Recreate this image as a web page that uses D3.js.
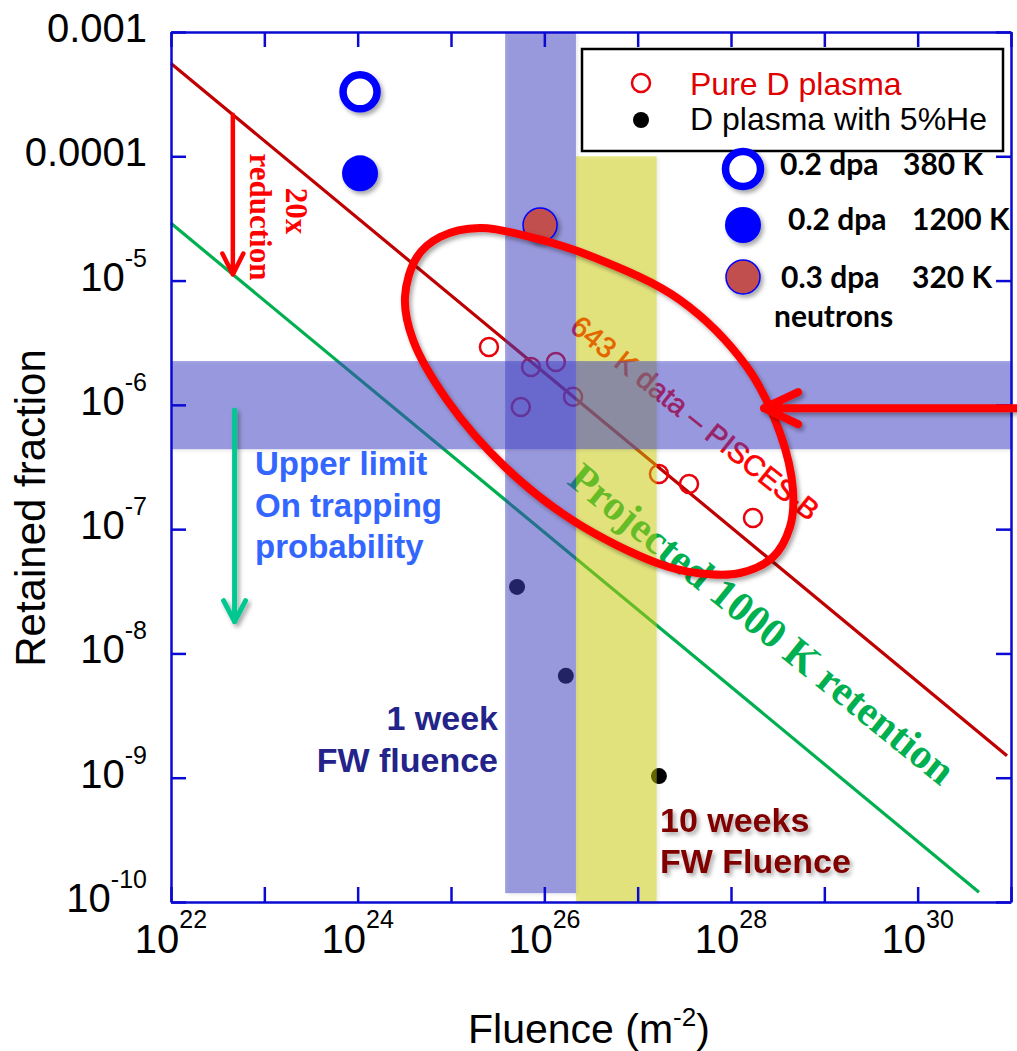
<!DOCTYPE html>
<html>
<head>
<meta charset="utf-8">
<script src="https://cdn.jsdelivr.net/npm/d3@7"></script>
<style>
  body { margin: 0; background: #fff; }
  svg { display: block; }
</style>
</head>
<body>
<svg id="chart" width="1017" height="1051"></svg>
<script>
// --- DATA ---
// pure D plasma (open red circles), 643 K PISCES-B
const pureDFluence  = [2.55e25, 7.2e25, 1.33e26, 5.6e25, 2.03e26, 1.69e27, 3.55e27, 1.72e28];
const pureDFraction = [2.92e-6, 2.02e-6, 2.21e-6, 9.6e-7, 1.16e-6, 2.78e-7, 2.31e-7, 1.23e-7];

// D plasma with 5% He (black dots)
const heFluence  = [5.1e25, 1.7e26, 1.69e27];
const heFraction = [3.43e-8, 6.6e-9, 1.03e-9];

// damaged W (dpa) points
const dpaLabels   = ['0.2 dpa  380 K', '0.2 dpa  1200 K', '0.3 dpa  320 K'];
const dpaFluence  = [1.06e24, 1.06e24, 9.0e25];
const dpaFraction = [3.3e-4, 7.3e-5, 2.8e-5];

// fit through 643 K data and projected 1000 K line (20x lower)
const fitFluence   = [1e22, 9.06e30];
const fitFraction  = [5.58e-4, 1.5e-9];
const projFluence  = [1e22, 4.54e30];
const projFraction = [2.89e-5, 1.2e-10];

// shaded ranges
const weekFluence   = [3.8e25, 2.18e26];   // 1 week FW fluence
const weekFraction  = [1.18e-10, 1e-3];
const tenWkFluence  = [2.18e26, 1.6e27];   // 10 weeks FW fluence
const tenWkFraction = [1e-10, 1e-4];
const trapFraction  = [4.4e-7, 2.25e-6];   // upper limit on trapping

// outline drawn round the 643 K data (log10 values)
const ringLogFluence  = [25.311, 25.846, 26.521, 27.454, 28.171, 28.525, 28.664, 28.632, 28.45, 28.096,
                         27.636, 27.207, 26.329, 25.579, 24.957, 24.593, 24.507, 24.636, 24.882];
const ringLogFraction = [-4.577, -4.649, -4.810, -5.156, -5.695, -6.226, -6.685, -6.983, -7.224, -7.353,
                         -7.353, -7.272, -6.942, -6.5, -5.961, -5.478, -5.132, -4.810, -4.649];

// arrows
const reductionFluence = 4.6e22;
const trapArrowFluence = 4.8e22;
const trapArrowFraction = [9.1e-7, 1.8e-8];
const piscesArrowFraction = 9.4e-7;
const piscesArrowTip = 2.26e28;

// ticks
const xTickExp  = [22, 23, 24, 25, 26, 27, 28, 29, 30, 31];
const xLabelExp = [22, 24, 26, 28, 30];
const yTickExp  = [-3, -4, -5, -6, -7, -8, -9, -10];
const yTickText = ['0.001', '0.0001', null, null, null, null, null, null];

// --- SETUP ---
const sans = '"Liberation Sans", Arial, sans-serif';
const serif = '"Liberation Serif", "Times New Roman", serif';
const axisBlue = '#0a0ad2';

const svg = d3.select('#chart');
const W = 1017;
const plotL = 171, plotR = 1011, plotT = 32, plotB = 902;

const x = d3.scaleLog().domain([1e22, 1e31]).range([plotL, plotR]);
const y = d3.scaleLog().domain([1e-10, 1e-3]).range([plotB, plotT]);

const defs = svg.append('defs');
const filt = defs.append('filter').attr('id', 'shadow')
    .attr('x', '-20%').attr('y', '-20%').attr('width', '150%').attr('height', '150%');
filt.append('feDropShadow').attr('dx', 2.5).attr('dy', 3).attr('stdDeviation', 2)
    .attr('flood-color', '#000').attr('flood-opacity', 0.35);
const filt2 = defs.append('filter').attr('id', 'soft')
    .attr('x', '-5%').attr('y', '-5%').attr('width', '115%').attr('height', '115%');
filt2.append('feDropShadow').attr('dx', 2).attr('dy', 2).attr('stdDeviation', 1.5)
    .attr('flood-color', '#000').attr('flood-opacity', 0.15);

// interpolate a straight line in log-log space
function logLine(fx, fy, xv) {
    const t = (Math.log10(xv) - Math.log10(fx[0])) / (Math.log10(fx[1]) - Math.log10(fx[0]));
    return Math.pow(10, Math.log10(fy[0]) + t * (Math.log10(fy[1]) - Math.log10(fy[0])));
}

function arrow(g, x1, y1, x2, y2, color, w, len, half, filter) {
    const a = Math.atan2(y2 - y1, x2 - x1);
    const ax = Math.cos(a), ay = Math.sin(a);
    const p = `M${x1},${y1}L${x2},${y2}` +
        `M${x2 - ax * len - ay * half},${y2 - ay * len + ax * half}L${x2},${y2}` +
        `L${x2 - ax * len + ay * half},${y2 - ay * len - ax * half}`;
    const path = g.append('path').attr('d', p).attr('fill', 'none')
        .attr('stroke', color).attr('stroke-width', w)
        .attr('stroke-linecap', 'round').attr('stroke-linejoin', 'round');
    if (filter) path.attr('filter', 'url(#shadow)');
}

// --- LINES ---
const gLines = svg.append('g');
const line = d3.line().x(d => x(d[0])).y(d => y(d[1]));
gLines.append('path').attr('d', line(d3.zip(fitFluence, fitFraction)))
    .attr('fill', 'none').attr('stroke', '#c00000').attr('stroke-width', 3.2);
gLines.append('path').attr('d', line(d3.zip(projFluence, projFraction)))
    .attr('fill', 'none').attr('stroke', '#00b050').attr('stroke-width', 3.2);

// --- DATA POINTS ---
const gPts = svg.append('g');
gPts.selectAll('circle.pure').data(d3.zip(pureDFluence, pureDFraction)).join('circle')
    .attr('class', 'pure')
    .attr('cx', d => x(d[0])).attr('cy', d => y(d[1])).attr('r', 9)
    .attr('fill', 'none').attr('stroke', '#e8000b').attr('stroke-width', 2.5);
gPts.selectAll('circle.he').data(d3.zip(heFluence, heFraction)).join('circle')
    .attr('class', 'he')
    .attr('cx', d => x(d[0])).attr('cy', d => y(d[1])).attr('r', 8)
    .attr('fill', '#000');

// --- TEXT UNDER THE SHADED BANDS ---
svg.append('text')
    .attr('transform', 'translate(695,418) rotate(38.6)')
    .attr('text-anchor', 'middle').attr('dominant-baseline', 'central')
    .attr('font-family', sans).attr('font-size', 29).attr('fill', '#ff0000')
    .attr('stroke', '#ff0000').attr('stroke-width', 0.7)
    .text('643 K data \u2013 PISCES-B');

svg.append('text')
    .attr('transform', 'translate(762,624) rotate(39)')
    .attr('text-anchor', 'middle').attr('dominant-baseline', 'central')
    .attr('font-family', serif).attr('font-weight', 'bold').attr('font-size', 42)
    .attr('fill', '#00b050')
    .text('Projected 1000 K retention');

// --- SHADED BANDS ---
const gBands = svg.append('g');
gBands.append('rect')
    .attr('x', x(tenWkFluence[0])).attr('width', x(tenWkFluence[1]) - x(tenWkFluence[0]))
    .attr('y', y(tenWkFraction[1])).attr('height', y(tenWkFraction[0]) - y(tenWkFraction[1]))
    .attr('fill', '#cecf0c').attr('fill-opacity', 0.47).attr('filter', 'url(#soft)');
gBands.append('rect')
    .attr('x', x(weekFluence[0])).attr('width', x(weekFluence[1]) - x(weekFluence[0]))
    .attr('y', y(weekFraction[1])).attr('height', y(weekFraction[0]) - y(weekFraction[1]))
    .attr('fill', '#4141c3').attr('fill-opacity', 0.5).attr('filter', 'url(#soft)');
gBands.append('rect')
    .attr('x', plotL).attr('width', plotR - plotL)
    .attr('y', y(trapFraction[1])).attr('height', y(trapFraction[0]) - y(trapFraction[1]))
    .attr('fill', '#4141c8').attr('fill-opacity', 0.5).attr('filter', 'url(#soft)');

// --- AXES (frame with inward ticks) ---
const xTicks = xTickExp.map(e => Math.pow(10, e));
const yTicks = yTickExp.map(e => Math.pow(10, e));
const axes = [
    [d3.axisBottom(x).tickValues(xTicks), `translate(0,${plotB})`],
    [d3.axisTop(x).tickValues(xTicks), `translate(0,${plotT})`],
    [d3.axisLeft(y).tickValues(yTicks), `translate(${plotL},0)`],
    [d3.axisRight(y).tickValues(yTicks), `translate(${plotR},0)`]
];
axes.forEach(([ax, tr]) => {
    const g = svg.append('g').attr('transform', tr)
        .call(ax.tickSizeInner(-15).tickSizeOuter(0).tickFormat(''));
    g.select('.domain').attr('stroke', axisBlue).attr('stroke-width', 2.5);
    g.selectAll('.tick line').attr('stroke', axisBlue).attr('stroke-width', 2.5);
});

// tick labels
xLabelExp.forEach(e => {
    const t = svg.append('text').attr('x', x(Math.pow(10, e))).attr('y', 953)
        .attr('text-anchor', 'middle').attr('font-family', sans).attr('font-size', 40).attr('fill', '#000');
    t.append('tspan').text('10');
    t.append('tspan').attr('dy', -25).attr('font-size', 25).text(e);
});
yTickExp.forEach((e, i) => {
    const t = svg.append('text').attr('x', 147).attr('y', y(Math.pow(10, e)) + 10)
        .attr('text-anchor', 'end').attr('font-family', sans).attr('font-size', 40).attr('fill', '#000');
    if (yTickText[i]) {
        t.text(yTickText[i]);
    } else {
        t.append('tspan').text('10');
        t.append('tspan').attr('dy', -24).attr('font-size', 25).text(e);
    }
});

// axis titles
const xt = svg.append('text').attr('x', 468).attr('y', 1043)
    .attr('font-family', sans).attr('font-size', 41).attr('fill', '#000');
xt.append('tspan').text('Fluence (m');
xt.append('tspan').attr('dy', -17).attr('font-size', 26).text('-2');
xt.append('tspan').attr('dy', 17).text(')');

svg.append('text').attr('transform', 'translate(45,508) rotate(-90)')
    .attr('text-anchor', 'middle').attr('font-family', sans).attr('font-size', 42).attr('fill', '#000')
    .text('Retained fraction');

// --- DPA POINTS ---
const gDpa = svg.append('g').attr('filter', 'url(#shadow)');
gDpa.append('circle').attr('cx', x(dpaFluence[0])).attr('cy', y(dpaFraction[0])).attr('r', 17)
    .attr('fill', '#fff').attr('stroke', '#0000ff').attr('stroke-width', 7.5);
gDpa.append('circle').attr('cx', x(dpaFluence[1])).attr('cy', y(dpaFraction[1])).attr('r', 18)
    .attr('fill', '#0000ff');
gDpa.append('circle').attr('cx', x(dpaFluence[2])).attr('cy', y(dpaFraction[2])).attr('r', 17)
    .attr('fill', '#c0504d').attr('stroke', '#0000ff').attr('stroke-width', 1.5);

// --- OUTLINE + ARROWS ---
const ring = d3.line().curve(d3.curveCatmullRomClosed)
    .x(d => x(Math.pow(10, d[0]))).y(d => y(Math.pow(10, d[1])));
svg.append('path').attr('d', ring(d3.zip(ringLogFluence, ringLogFraction)))
    .attr('fill', 'none').attr('stroke', '#ff0000').attr('stroke-width', 8)
    .attr('filter', 'url(#shadow)');

const gAnn = svg.append('g');
arrow(gAnn, W + 5, y(piscesArrowFraction), x(piscesArrowTip), y(piscesArrowFraction),
    '#ff0000', 8, 34, 16, true);
arrow(gAnn, x(reductionFluence), y(logLine(fitFluence, fitFraction, reductionFluence)),
    x(reductionFluence), y(logLine(projFluence, projFraction, reductionFluence)),
    '#ff0000', 4.5, 21, 10.5, false);
arrow(gAnn, x(trapArrowFluence), y(trapArrowFraction[0]), x(trapArrowFluence), y(trapArrowFraction[1]),
    '#00c890', 5, 21, 11, true);

// 20x reduction label
[['20x', 286, 211], ['reduction', 250, 217]].forEach(([s, bx, cy]) => {
    gAnn.append('text').attr('transform', `translate(${bx},${cy}) rotate(90)`)
        .attr('text-anchor', 'middle').attr('font-family', serif).attr('font-weight', 'bold')
        .attr('font-size', 31).attr('fill', '#ff0000').text(s);
});

// other labels
function lines(arr, xp, y0, dy, color, anchor, size, shadow) {
    const t = gAnn.append('text').attr('font-family', sans).attr('font-weight', 'bold')
        .attr('font-size', size).attr('fill', color).attr('text-anchor', anchor);
    if (shadow) t.attr('filter', 'url(#shadow)');
    arr.forEach((s, i) => t.append('tspan').attr('x', xp).attr('y', y0 + i * dy).text(s));
}
lines(['Upper limit', 'On trapping', 'probability'], 255, 475, 41.5, '#3366ff', 'start', 33, false);
lines(['1 week', 'FW fluence'], 498, 730, 42, '#232389', 'end', 34, false);
lines(['10 weeks', 'FW Fluence'], 660, 832, 41, '#800000', 'start', 34, true);

// --- LEGEND ---
const gLeg = svg.append('g');
gLeg.append('rect').attr('x', 582).attr('y', 49).attr('width', 421).attr('height', 102)
    .attr('fill', '#fff').attr('stroke', '#000').attr('stroke-width', 2.5);
gLeg.append('circle').attr('cx', 641).attr('cy', 83).attr('r', 9)
    .attr('fill', 'none').attr('stroke', '#e8000b').attr('stroke-width', 2.5);
gLeg.append('circle').attr('cx', 641).attr('cy', 120).attr('r', 8).attr('fill', '#000');
gLeg.append('text').attr('x', 690).attr('y', 95).attr('font-family', sans).attr('font-size', 32)
    .attr('fill', '#e00000').text('Pure D plasma');
gLeg.append('text').attr('x', 690).attr('y', 130).attr('font-family', sans).attr('font-size', 32)
    .attr('fill', '#000').text('D plasma with 5%He');

const gLeg2 = svg.append('g').attr('filter', 'url(#shadow)');
gLeg2.append('circle').attr('cx', 743).attr('cy', 169).attr('r', 17.5)
    .attr('fill', '#fff').attr('stroke', '#0000ff').attr('stroke-width', 7.5);
gLeg2.append('circle').attr('cx', 743).attr('cy', 225).attr('r', 18).attr('fill', '#0000ff');
gLeg2.append('circle').attr('cx', 743).attr('cy', 277).attr('r', 17)
    .attr('fill', '#c0504d').attr('stroke', '#0000ff').attr('stroke-width', 1.5);

const dpaRows = [[780, 903, 175], [788, 912, 230], [781, 912, 288]];
dpaLabels.forEach((s, i) => {
    const parts = s.split('  ');
    const [x1, x2, by] = dpaRows[i];
    [[parts[0], x1], [parts[1], x2]].forEach(([txt, xp]) => {
        gLeg.append('text').attr('x', xp).attr('y', by).attr('font-family', 'Lato, sans-serif')
            .attr('font-weight', 'bold').attr('font-size', 30).attr('fill', '#000').text(txt);
    });
});
gLeg.append('text').attr('x', 774).attr('y', 327).attr('font-family', 'Lato, sans-serif')
    .attr('font-weight', 'bold').attr('font-size', 30).attr('fill', '#000').text('neutrons');
</script>
</body>
</html>
